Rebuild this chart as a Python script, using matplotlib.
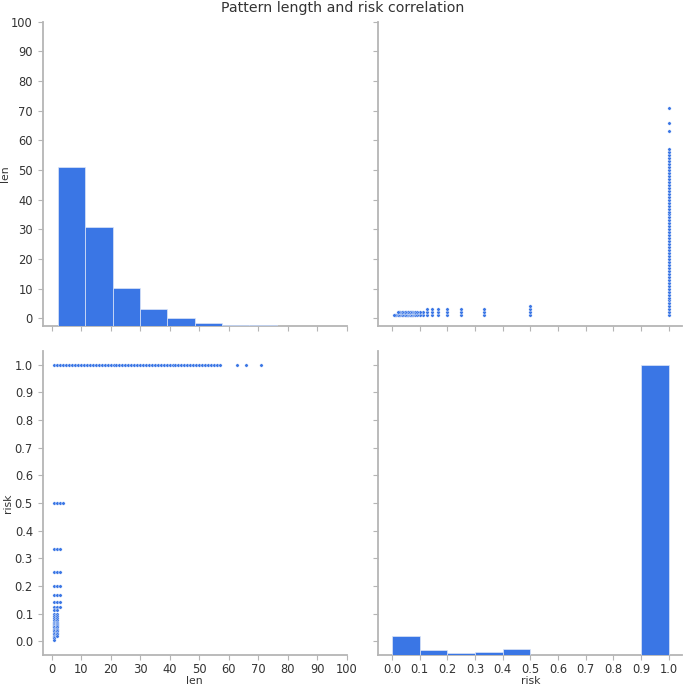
import matplotlib
matplotlib.use("Agg")
import matplotlib.pyplot as plt
import numpy as np

# histogram of pattern length (10 bins)
len_bin_edges = [2.25, 11.5, 20.75, 30.0, 39.25, 48.5, 57.75, 67.0, 76.25, 85.5, 94.75]
len_counts = [549, 341, 131, 57, 26, 10, 5, 2, 1, 1]

# histogram of risk (10 bins)
risk_bin_edges = [0.0, 0.1, 0.2, 0.3, 0.4, 0.5, 0.6, 0.7, 0.8, 0.9, 1.0]
risk_counts = [67, 17, 7, 9, 20, 0, 0, 0, 0, 1000]

# scatter points: patterns with risk 1.0
len_risk1 = [1, 2, 3, 4, 5, 6, 7, 8, 9, 10, 11, 12, 13, 14, 15, 16, 17, 18, 19, 20,
             21, 22, 23, 24, 25, 26, 27, 28, 29, 30, 31, 32, 33, 34, 35, 36, 37, 38, 39, 40,
             41, 42, 43, 44, 45, 46, 47, 48, 49, 50, 51, 52, 53, 54, 55, 56, 57, 63, 66, 71]
# low-risk patterns, by length
risk_len1 = [0.5, 0.333, 0.25, 0.2, 0.167, 0.143, 0.125, 0.111, 0.1, 0.091, 0.083,
             0.077, 0.071, 0.067, 0.063, 0.059, 0.056, 0.053, 0.05, 0.045, 0.04,
             0.035, 0.03, 0.025, 0.02, 0.015, 0.01, 0.005]
risk_len2 = [0.5, 0.333, 0.25, 0.2, 0.167, 0.143, 0.125, 0.111, 0.1, 0.091, 0.083,
             0.077, 0.071, 0.067, 0.063, 0.059, 0.056, 0.05, 0.045, 0.04, 0.035,
             0.03, 0.025, 0.02]
risk_len3 = [0.5, 0.333, 0.25, 0.2, 0.167, 0.143, 0.125]
risk_len4 = [0.5]

lens = (len_risk1 + [1] * len(risk_len1) + [2] * len(risk_len2)
        + [3] * len(risk_len3) + [4] * len(risk_len4))
risks = [1.0] * len(len_risk1) + risk_len1 + risk_len2 + risk_len3 + risk_len4

blue = "#3a76e5"
spine_c = "#b5b5b5"
text_c = "#333333"

plt.rcParams.update({
    "font.family": "DejaVu Sans",
    "font.size": 8.3,
    "axes.labelsize": 7.8,
    "axes.edgecolor": spine_c,
    "axes.linewidth": 1.3,
    "xtick.color": spine_c,
    "ytick.color": spine_c,
    "xtick.labelcolor": text_c,
    "ytick.labelcolor": text_c,
    "xtick.major.size": 3.5,
    "ytick.major.size": 3.5,
    "xtick.major.pad": 2.5,
    "axes.labelcolor": text_c,
})

fig = plt.figure(figsize=(6.85, 6.85), dpi=100)
w, h = 0.4438, 0.4442
x0, x1 = 0.0623, 0.5523
y0, y1 = 0.0438, 0.5241

ax_tl = fig.add_axes([x0, y1, w, h])
ax_tr = fig.add_axes([x1, y1, w, h], sharey=ax_tl)
ax_bl = fig.add_axes([x0, y0, w, h], sharex=ax_tl)
ax_br = fig.add_axes([x1, y0, w, h], sharex=ax_tr, sharey=ax_bl)

# scatters
ax_tr.scatter(risks, lens, s=6, color=blue, edgecolor="white", linewidth=0.25, zorder=3)
ax_bl.scatter(lens, risks, s=6, color=blue, edgecolor="white", linewidth=0.25, zorder=3)

# diagonal histograms on twin axes
h_tl = ax_tl.twinx()
h_br = ax_br.twinx()
h_tl.bar(len_bin_edges[:-1], len_counts, width=np.diff(len_bin_edges), align="edge",
         color=blue, edgecolor="#dde6f8", linewidth=0.5)
h_br.bar(risk_bin_edges[:-1], risk_counts, width=np.diff(risk_bin_edges), align="edge",
         color=blue, edgecolor="#dde6f8", linewidth=0.5)
top = max(max(len_counts), max(risk_counts)) * 1.05
for hx in (h_tl, h_br):
    hx.set_ylim(0, top)
    hx.set_yticks([])
    for s in hx.spines.values():
        s.set_visible(False)

ax_tl.set_xlim(-3, 100)
ax_tl.set_ylim(-2.6, 100)
ax_tl.set_xticks(np.arange(0, 101, 10))
ax_tl.set_yticks(np.arange(0, 101, 10))
ax_tr.set_xlim(-0.05, 1.05)
ax_bl.set_ylim(-0.05, 1.05)
ax_tr.set_xticks(np.arange(0, 1.01, 0.1))
ax_bl.set_yticks(np.arange(0, 1.01, 0.1))

for ax in (ax_tl, ax_tr, ax_bl, ax_br):
    ax.spines["top"].set_visible(False)
    ax.spines["right"].set_visible(False)

ax_tl.tick_params(labelbottom=False)
ax_tr.tick_params(labelbottom=False, labelleft=False)
ax_br.tick_params(labelleft=False)
ax_bl.xaxis.set_major_formatter(matplotlib.ticker.FormatStrFormatter("%d"))
ax_bl.yaxis.set_major_formatter(matplotlib.ticker.FormatStrFormatter("%.1f"))
ax_br.xaxis.set_major_formatter(matplotlib.ticker.FormatStrFormatter("%.1f"))

ax_tl.set_ylabel("len", labelpad=1)
ax_bl.set_ylabel("risk", labelpad=1)
ax_bl.set_xlabel("len", labelpad=0)
ax_br.set_xlabel("risk", labelpad=0)

fig.suptitle("Pattern length and risk correlation", fontsize=10.2, color=text_c, y=0.998)

fig.savefig("out.png", dpi=100)
